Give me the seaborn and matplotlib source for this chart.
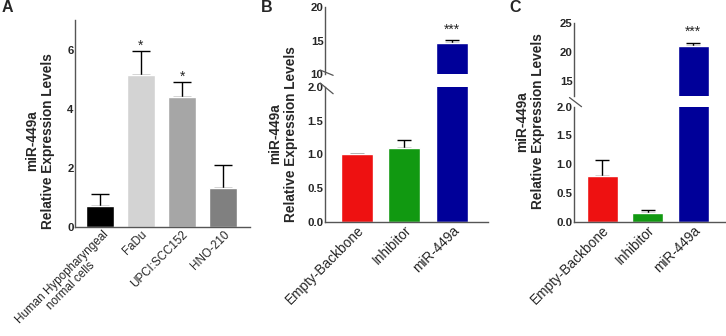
import matplotlib
matplotlib.use("Agg")
import matplotlib.pyplot as plt
import matplotlib.transforms as mtransforms
import numpy as np
import pandas as pd
import seaborn as sns

# panel A
cells = ["Human Hypopharyngeal\nnormal cells", "FaDu", "UPCI:SCC152", "HNO-210"]
cells_mean = [0.72, 5.15, 4.38, 1.32]
cells_err = [0.40, 0.80, 0.52, 0.76]
cells_sig = ["", "*", "*", ""]

# panels B and C
groups = ["Empty-Backbone", "Inhibitor", "miR-449a"]
b_mean = [1.00, 1.09, 14.6]
b_err = [0.01, 0.12, 0.55]
b_sig = ["", "", "***"]
c_mean = [0.79, 0.16, 21.1]
c_err = [0.29, 0.04, 0.45]
c_sig = ["", "", "***"]

gray_cols = ["#000000", "#d3d3d3", "#a6a6a6", "#808080"]
rgb_cols = ["#ee1111", "#119911", "#000099"]

sns.set_theme(style="white")
plt.rcParams["font.family"] = ["Liberation Sans", "DejaVu Sans"]

W, H = 726, 336
fig = plt.figure(figsize=(W / 100, H / 100), dpi=100)


def px_axes(left, top, right, bottom):
    return fig.add_axes([left / W, 1 - bottom / H, (right - left) / W, (bottom - top) / H])


def style(ax, bottom=True):
    for s in ["top", "right"]:
        ax.spines[s].set_visible(False)
    ax.spines["left"].set_color("#555555")
    ax.spines["bottom"].set_color("#555555")
    ax.spines["left"].set_linewidth(1.0)
    ax.spines["bottom"].set_linewidth(1.0)
    if not bottom:
        ax.spines["bottom"].set_visible(False)
        ax.set_xticks([])
    ax.tick_params(axis="both", length=0, pad=1)
    for t in ax.get_yticklabels():
        t.set_fontweight("bold")
        t.set_fontsize(8.2)
    ax.set_xlabel("")
    ax.set_ylabel("")


def bars(ax, names, means, errs, cols, width, cap):
    df = pd.DataFrame({"name": names, "val": means})
    sns.barplot(data=df, x="name", y="val", hue="name", palette=cols, width=width,
                errorbar=None, legend=False, saturation=1, ax=ax, zorder=2)
    x = np.arange(len(names))
    ax.errorbar(x, means, yerr=[np.zeros(len(errs)), errs], fmt="none", ecolor="black",
                elinewidth=1, capsize=cap, capthick=1, zorder=1)


def stars(ax, means, errs, sig, off):
    for i, s in enumerate(sig):
        if s:
            ax.text(i, means[i] + errs[i] + off, s, ha="center", va="bottom", fontsize=10)


def xlabels(ax, names, size=9.8):
    ax.set_xticks(range(len(names)))
    ax.set_xticklabels(names, rotation=45, ha="right", rotation_mode="anchor",
                       fontsize=size, multialignment="center", linespacing=1.0)


def brk(ax, y):
    # small diagonal break mark across the left spine
    ax.plot([-0.03, 0.05], [y + 0.04, y - 0.04], transform=ax.transAxes, color="#555555",
            lw=0.9, clip_on=False)


# ---- A
axA = px_axes(75, 20, 250, 227)
bars(axA, cells, cells_mean, cells_err, gray_cols, 0.67, 6.5)
stars(axA, cells_mean, cells_err, cells_sig, -0.05)
axA.set_ylim(0, 7)
axA.set_xlim(-0.6, 3.65)
axA.set_yticks([0, 2, 4, 6])
style(axA)
xlabels(axA, cells, size=8.4)
# nudge the long first label a little to the right so it stays inside the figure
shift = mtransforms.ScaledTranslation(3 / 100, 0, fig.dpi_scale_trans)
axA.get_xticklabels()[0].set_transform(axA.get_xticklabels()[0].get_transform() + shift)

# ---- B
bLo = px_axes(325, 87, 488, 221.7)
bHi = px_axes(325, 7.3, 488, 74)
for ax in (bLo, bHi):
    bars(ax, groups, b_mean, b_err, rgb_cols, 0.67, 5)
    ax.set_xlim(-0.67, 2.76)
bLo.set_ylim(0, 2.0)
bLo.set_yticks([0, 0.5, 1.0, 1.5, 2.0])
bLo.set_yticklabels(["0.0", "0.5", "1.0", "1.5", "2.0"])
bHi.set_ylim(10, 20)
bHi.set_yticks([10, 15, 20])
stars(bHi, b_mean, b_err, b_sig, 0.5)
style(bLo)
style(bHi, bottom=False)
xlabels(bLo, groups)
brk(bLo, 0.99)
brk(bHi, 0.02)

# ---- C
cLo = px_axes(574, 106.7, 725, 221.7)
cHi = px_axes(574, 23.3, 725, 95.5)
for ax in (cLo, cHi):
    bars(ax, groups, c_mean, c_err, rgb_cols, 0.68, 5)
    ax.set_xlim(-0.62, 2.7)
cLo.set_ylim(0, 2.0)
cLo.set_yticks([0, 0.5, 1.0, 1.5, 2.0])
cLo.set_yticklabels(["0.0", "0.5", "1.0", "1.5", "2.0"])
cHi.set_ylim(12.5, 25)
cHi.set_yticks([15, 20, 25])
stars(cHi, c_mean, c_err, c_sig, 0.7)
style(cLo)
style(cHi, bottom=False)
xlabels(cLo, groups)
brk(cLo, 1.04)

# y labels and panel letters
ylab = "miR-449a\nRelative Expression Levels"
for xc, yc in [(40, 141), (283, 134), (530, 121.5)]:
    fig.text(xc / W, 1 - yc / H, ylab, rotation=90, ha="center", va="center",
             fontsize=9.8, fontweight="bold", multialignment="center", linespacing=1.1)
for lab, xc, yc in [("A", 7, 8), ("B", 267, 8), ("C", 515, 8)]:
    fig.text(xc / W, 1 - yc / H, lab, ha="center", va="center", fontsize=11.5, fontweight="bold")

fig.savefig("out.png", dpi=100)
